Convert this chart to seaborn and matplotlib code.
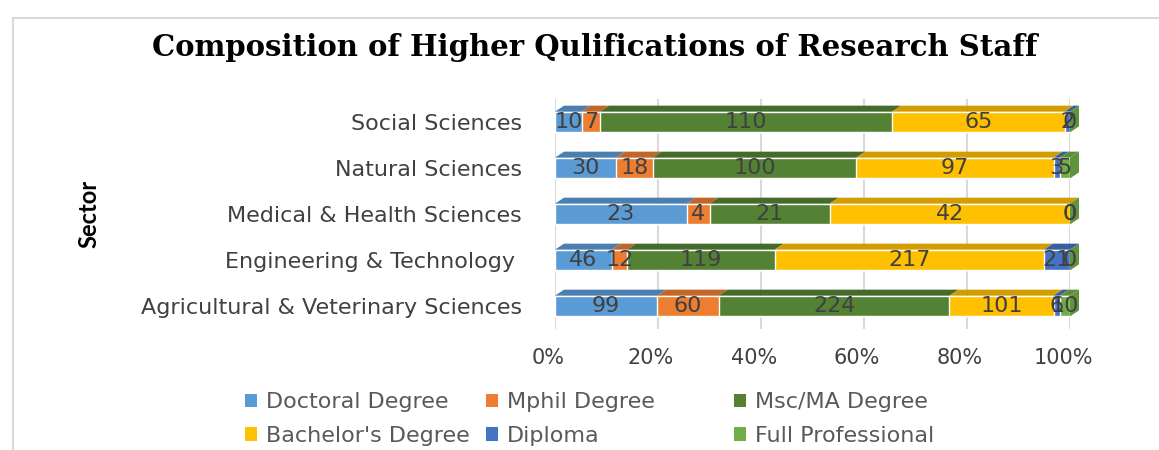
import numpy as np
import pandas as pd
import matplotlib
matplotlib.use("Agg")
import matplotlib.pyplot as plt
import matplotlib.colors as mcolors
from matplotlib.patches import Patch, Rectangle, Polygon
from matplotlib.transforms import ScaledTranslation
import seaborn as sns

# data (counts per sector)
sectors = ["Social Sciences", "Natural Sciences", "Medical & Health Sciences",
           "Engineering & Technology ", "Agricultural & Veterinary Sciences"]
doctoral = [10, 30, 23, 46, 99]
mphil = [7, 18, 4, 12, 60]
msc_ma = [110, 100, 21, 119, 224]
bachelor = [65, 97, 42, 217, 101]
diploma = [2, 3, 0, 21, 6]
full_prof = [0, 5, 0, 0, 10]

series_names = ["Doctoral Degree", "Mphil Degree", "Msc/MA Degree",
                "Bachelor's Degree", "Diploma", "Full Professional"]
series_colors = ["#5B9BD5", "#ED7D31", "#548235", "#FFC000", "#4472C4", "#70AD47"]
x_ticks = [0, 0.2, 0.4, 0.6, 0.8, 1.0]
x_ticklabels = ["0%", "20%", "40%", "60%", "80%", "100%"]

sns.set_theme(style="white")
plt.rcParams['font.family'] = ['DejaVu Sans']

counts = np.array([doctoral, mphil, msc_ma, bachelor, diploma, full_prof], dtype=float).T
totals = counts.sum(axis=1, keepdims=True)
shares = counts / totals
cum = shares.cumsum(axis=1)

fig = plt.figure(figsize=(11.59, 4.5), dpi=100)
ax = fig.add_axes([555 / 1159, 1 - 329 / 450, 515 / 1159, 230 / 450])

bar_h = 0.45
# stacked bars: draw cumulative layers from the last one backwards
for i in range(len(series_names) - 1, -1, -1):
    df = pd.DataFrame({"sector": sectors, "share": cum[:, i]})
    sns.barplot(data=df, x="share", y="sector", orient="h", color=series_colors[i],
                saturation=1, width=bar_h, errorbar=None, ax=ax, zorder=3)


def darker(c, f=0.82):
    r, g, b = mcolors.to_rgb(c)
    return (r * f, g * f, b * f)


# fake 3d: top faces of each segment and a side face at the bar end
dx, dy = 9 / 515, 6 / 46
for r in range(len(sectors)):
    top = r - bar_h / 2
    left = 0.0
    for i in range(len(series_names)):
        right = cum[r, i]
        if right > left:
            ax.add_patch(Polygon([(left, top), (right, top), (right + dx, top - dy), (left + dx, top - dy)],
                                 closed=True, facecolor=darker(series_colors[i]), edgecolor="none",
                                 zorder=3, clip_on=False))
        left = right
    ax.add_patch(Polygon([(1, top), (1 + dx, top - dy), (1 + dx, r + bar_h / 2 - dy), (1, r + bar_h / 2)],
                         closed=True, facecolor=darker(series_colors[5], 0.85), edgecolor="none",
                         zorder=3, clip_on=False))

# value labels in the middle of each segment
for r in range(len(sectors)):
    for i in range(len(series_names)):
        center = cum[r, i] - shares[r, i] / 2
        ax.text(center, r, f"{int(counts[r, i])}", ha="center", va="center",
                fontsize=16, color="#404040", zorder=5)

ax.set_xlim(0, 1)
ax.set_ylim(4.5, -0.5)
ax.set_xticks(x_ticks)
ax.set_xticklabels(x_ticklabels)
ax.xaxis.grid(True, color="#d9d9d9", linewidth=1.5, zorder=0)
ax.set_axisbelow(True)
for s in ax.spines.values():
    s.set_visible(False)
ax.tick_params(axis="x", labelsize=15, labelcolor="#404040", pad=14, length=0)
ax.tick_params(axis="y", labelsize=16, labelcolor="#404040", pad=24, length=0)
for lab in ax.get_xticklabels():
    lab.set_transform(lab.get_transform() + ScaledTranslation(-7 / 100, 0, fig.dpi_scale_trans))
ax.set_xlabel("")
ax.set_ylabel("Sector", fontsize=17, fontweight="bold", color="black", family="Lato")
ax.yaxis.set_label_coords(-0.882, 0.5)

fig.text(595 / 1159, 1 - 48 / 450, "Composition of Higher Qulifications of Research Staff",
         ha="center", va="center", fontsize=21, fontweight="bold",
         family="DejaVu Serif", color="black")

# legend laid out row-wise like the reference: two columns + one column
handles = [Patch(facecolor=c, edgecolor="none") for c in series_colors]
leg_kw = dict(frameon=False, fontsize=16, labelcolor="#595959", handlelength=0.55,
              handleheight=0.55, handletextpad=0.4, labelspacing=0.62, borderpad=0)
order_a = [0, 3, 1, 4]
fig.legend([handles[k] for k in order_a], [series_names[k] for k in order_a],
           loc="upper left", bbox_to_anchor=(234 / 1159, 1 - 381 / 450), ncol=2,
           columnspacing=0.7, **leg_kw)
order_b = [2, 5]
fig.legend([handles[k] for k in order_b], [series_names[k] for k in order_b],
           loc="upper left", bbox_to_anchor=(723 / 1159, 1 - 381 / 450), ncol=1, **leg_kw)

# light chart-area frame
fig.patches.append(Rectangle((13 / 1159, -0.1), 1.2, 1.1 - 18 / 450, transform=fig.transFigure,
                             fill=False, edgecolor="#d9d9d9", linewidth=1.5))

fig.savefig("out.png", dpi=100)
